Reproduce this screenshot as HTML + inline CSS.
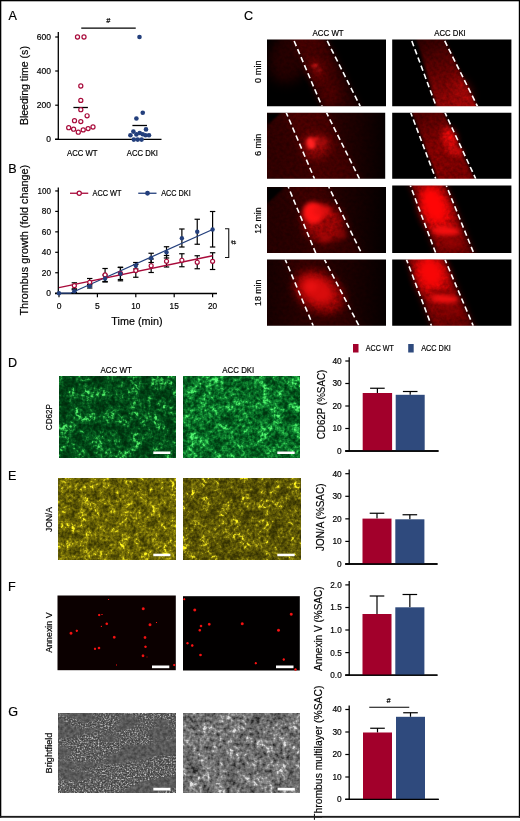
<!DOCTYPE html>
<html><head><meta charset="utf-8"><title>Figure</title>
<style>
html,body{margin:0;padding:0;background:#fff;}
svg{display:block;font-family:"Liberation Sans",sans-serif;will-change:transform;}
</style></head><body>
<svg width="520" height="821" viewBox="0 0 520 821">
<defs>
<filter id="b1" x="-50%" y="-50%" width="200%" height="200%" color-interpolation-filters="sRGB"><feGaussianBlur stdDeviation="1"/></filter>
<filter id="b2" x="-50%" y="-50%" width="200%" height="200%" color-interpolation-filters="sRGB"><feGaussianBlur stdDeviation="2"/></filter>
<filter id="b3" x="-50%" y="-50%" width="200%" height="200%" color-interpolation-filters="sRGB"><feGaussianBlur stdDeviation="3"/></filter>
<filter id="b4" x="-50%" y="-50%" width="200%" height="200%" color-interpolation-filters="sRGB"><feGaussianBlur stdDeviation="4"/></filter>
<filter id="b6" x="-50%" y="-50%" width="200%" height="200%" color-interpolation-filters="sRGB"><feGaussianBlur stdDeviation="6"/></filter>
<filter id="b05" x="-50%" y="-50%" width="200%" height="200%" color-interpolation-filters="sRGB"><feGaussianBlur stdDeviation="0.5"/></filter>
<filter id="b15" x="-50%" y="-50%" width="200%" height="200%" color-interpolation-filters="sRGB"><feGaussianBlur stdDeviation="1.5"/></filter>
</defs>
<rect x="0" y="0" width="520" height="821" fill="#fff"/>
<text x="8.5" y="19.5" font-size="12.6" text-anchor="start" fill="#000" stroke="#000" stroke-width="0.18">A</text>
<text x="8.3" y="173" font-size="12.6" text-anchor="start" fill="#000" stroke="#000" stroke-width="0.18">B</text>
<text x="244" y="20" font-size="12.6" text-anchor="start" fill="#000" stroke="#000" stroke-width="0.18">C</text>
<text x="8.0" y="366.6" font-size="12.6" text-anchor="start" fill="#000" stroke="#000" stroke-width="0.18">D</text>
<text x="8.0" y="480.4" font-size="12.6" text-anchor="start" fill="#000" stroke="#000" stroke-width="0.18">E</text>
<text x="8.0" y="591.4" font-size="12.6" text-anchor="start" fill="#000" stroke="#000" stroke-width="0.18">F</text>
<text x="8.2" y="716.2" font-size="12.6" text-anchor="start" fill="#000" stroke="#000" stroke-width="0.18">G</text>
<line x1="58.3" y1="32" x2="58.3" y2="139.9" stroke="#000" stroke-width="1.3"/>
<line x1="55" y1="139.3" x2="161.5" y2="139.3" stroke="#000" stroke-width="1.3"/>
<line x1="55.2" y1="37" x2="58.3" y2="37" stroke="#000" stroke-width="1.2"/>
<text x="51" y="40.0" font-size="8.5" text-anchor="end" textLength="14.2" lengthAdjust="spacingAndGlyphs" fill="#000" stroke="#000" stroke-width="0.18">600</text>
<line x1="55.2" y1="71" x2="58.3" y2="71" stroke="#000" stroke-width="1.2"/>
<text x="51" y="74.0" font-size="8.5" text-anchor="end" textLength="14.2" lengthAdjust="spacingAndGlyphs" fill="#000" stroke="#000" stroke-width="0.18">400</text>
<line x1="55.2" y1="105.2" x2="58.3" y2="105.2" stroke="#000" stroke-width="1.2"/>
<text x="51" y="108.2" font-size="8.5" text-anchor="end" textLength="14.2" lengthAdjust="spacingAndGlyphs" fill="#000" stroke="#000" stroke-width="0.18">200</text>
<line x1="55.2" y1="139.2" x2="58.3" y2="139.2" stroke="#000" stroke-width="1.2"/>
<text x="51" y="142.2" font-size="8.5" text-anchor="end" fill="#000" stroke="#000" stroke-width="0.18">0</text>
<text x="28.5" y="85.6" font-size="11" text-anchor="middle" textLength="79" lengthAdjust="spacingAndGlyphs" transform="rotate(-90 28.5 85.6)" fill="#000" stroke="#000" stroke-width="0.18">Bleeding time (s)</text>
<line x1="81.25" y1="28.1" x2="135.75" y2="28.1" stroke="#000" stroke-width="1.3"/>
<text x="108.3" y="23.2" font-size="7.2" text-anchor="middle" fill="#222" stroke="#000" stroke-width="0.22" font-style="italic">#</text>
<text x="67" y="155.5" font-size="8.7" text-anchor="start" textLength="30.5" lengthAdjust="spacingAndGlyphs" fill="#000" stroke="#000" stroke-width="0.18">ACC WT</text>
<text x="126.75" y="155.5" font-size="8.7" text-anchor="start" textLength="31.25" lengthAdjust="spacingAndGlyphs" fill="#000" stroke="#000" stroke-width="0.18">ACC DKI</text>
<line x1="73.4" y1="107.5" x2="87.9" y2="107.5" stroke="#000" stroke-width="1.3"/>
<circle cx="77.5" cy="37" r="2.05" fill="#fff" stroke="#A80A3A" stroke-width="1.2"/>
<circle cx="84" cy="37" r="2.05" fill="#fff" stroke="#A80A3A" stroke-width="1.2"/>
<circle cx="80.8" cy="86" r="2.05" fill="#fff" stroke="#A80A3A" stroke-width="1.2"/>
<circle cx="80.8" cy="100.4" r="2.05" fill="#fff" stroke="#A80A3A" stroke-width="1.2"/>
<circle cx="80.8" cy="109.7" r="2.05" fill="#fff" stroke="#A80A3A" stroke-width="1.2"/>
<circle cx="87.1" cy="115.8" r="2.05" fill="#fff" stroke="#A80A3A" stroke-width="1.2"/>
<circle cx="74.5" cy="120.7" r="2.05" fill="#fff" stroke="#A80A3A" stroke-width="1.2"/>
<circle cx="80.8" cy="121.6" r="2.05" fill="#fff" stroke="#A80A3A" stroke-width="1.2"/>
<circle cx="68.7" cy="127.7" r="2.05" fill="#fff" stroke="#A80A3A" stroke-width="1.2"/>
<circle cx="93" cy="127" r="2.05" fill="#fff" stroke="#A80A3A" stroke-width="1.2"/>
<circle cx="73.6" cy="129.2" r="2.05" fill="#fff" stroke="#A80A3A" stroke-width="1.2"/>
<circle cx="88.1" cy="128.6" r="2.05" fill="#fff" stroke="#A80A3A" stroke-width="1.2"/>
<circle cx="83.2" cy="129.9" r="2.05" fill="#fff" stroke="#A80A3A" stroke-width="1.2"/>
<circle cx="78.3" cy="132.2" r="2.05" fill="#fff" stroke="#A80A3A" stroke-width="1.2"/>
<line x1="132.4" y1="125.5" x2="147" y2="125.5" stroke="#000" stroke-width="1.3"/>
<circle cx="139.5" cy="37" r="2.3" fill="#233F7C"/>
<circle cx="142.75" cy="112.8" r="2.3" fill="#233F7C"/>
<circle cx="136.4" cy="118.5" r="2.3" fill="#233F7C"/>
<circle cx="146" cy="129.4" r="2.3" fill="#233F7C"/>
<circle cx="133.4" cy="131.6" r="2.3" fill="#233F7C"/>
<circle cx="139.7" cy="133" r="2.3" fill="#233F7C"/>
<circle cx="136.4" cy="134.4" r="2.3" fill="#233F7C"/>
<circle cx="142.7" cy="134.2" r="2.3" fill="#233F7C"/>
<circle cx="130.4" cy="135.3" r="2.3" fill="#233F7C"/>
<circle cx="145.5" cy="135.3" r="2.3" fill="#233F7C"/>
<circle cx="149" cy="135.3" r="2.3" fill="#233F7C"/>
<circle cx="133.8" cy="139.6" r="2.3" fill="#233F7C"/>
<circle cx="137.7" cy="139.6" r="2.3" fill="#233F7C"/>
<circle cx="141.6" cy="139.6" r="2.3" fill="#233F7C"/>
<line x1="58.3" y1="187.5" x2="58.3" y2="294.1" stroke="#000" stroke-width="1.3"/>
<line x1="55" y1="293.5" x2="217" y2="293.5" stroke="#000" stroke-width="1.3"/>
<line x1="55.2" y1="293.2" x2="58.3" y2="293.2" stroke="#000" stroke-width="1.2"/>
<text x="51" y="296.2" font-size="8.5" text-anchor="end" fill="#000" stroke="#000" stroke-width="0.18">0</text>
<line x1="55.2" y1="272.75" x2="58.3" y2="272.75" stroke="#000" stroke-width="1.2"/>
<text x="51" y="275.75" font-size="8.5" text-anchor="end" textLength="9.2" lengthAdjust="spacingAndGlyphs" fill="#000" stroke="#000" stroke-width="0.18">20</text>
<line x1="55.2" y1="252.29999999999998" x2="58.3" y2="252.29999999999998" stroke="#000" stroke-width="1.2"/>
<text x="51" y="255.29999999999998" font-size="8.5" text-anchor="end" textLength="9.2" lengthAdjust="spacingAndGlyphs" fill="#000" stroke="#000" stroke-width="0.18">40</text>
<line x1="55.2" y1="231.85" x2="58.3" y2="231.85" stroke="#000" stroke-width="1.2"/>
<text x="51" y="234.85" font-size="8.5" text-anchor="end" textLength="9.2" lengthAdjust="spacingAndGlyphs" fill="#000" stroke="#000" stroke-width="0.18">60</text>
<line x1="55.2" y1="211.39999999999998" x2="58.3" y2="211.39999999999998" stroke="#000" stroke-width="1.2"/>
<text x="51" y="214.39999999999998" font-size="8.5" text-anchor="end" textLength="9.2" lengthAdjust="spacingAndGlyphs" fill="#000" stroke="#000" stroke-width="0.18">80</text>
<line x1="55.2" y1="190.95" x2="58.3" y2="190.95" stroke="#000" stroke-width="1.2"/>
<text x="51" y="193.95" font-size="8.5" text-anchor="end" textLength="13.4" lengthAdjust="spacingAndGlyphs" fill="#000" stroke="#000" stroke-width="0.18">100</text>
<line x1="59.0" y1="293.5" x2="59.0" y2="297.3" stroke="#000" stroke-width="1.2"/>
<text x="59.0" y="308.7" font-size="8.5" text-anchor="middle" fill="#000" stroke="#000" stroke-width="0.18">0</text>
<line x1="97.4" y1="293.5" x2="97.4" y2="297.3" stroke="#000" stroke-width="1.2"/>
<text x="97.4" y="308.7" font-size="8.5" text-anchor="middle" fill="#000" stroke="#000" stroke-width="0.18">5</text>
<line x1="135.8" y1="293.5" x2="135.8" y2="297.3" stroke="#000" stroke-width="1.2"/>
<text x="135.8" y="308.7" font-size="8.5" text-anchor="middle" textLength="9.2" lengthAdjust="spacingAndGlyphs" fill="#000" stroke="#000" stroke-width="0.18">10</text>
<line x1="174.2" y1="293.5" x2="174.2" y2="297.3" stroke="#000" stroke-width="1.2"/>
<text x="174.2" y="308.7" font-size="8.5" text-anchor="middle" textLength="9.2" lengthAdjust="spacingAndGlyphs" fill="#000" stroke="#000" stroke-width="0.18">15</text>
<line x1="212.6" y1="293.5" x2="212.6" y2="297.3" stroke="#000" stroke-width="1.2"/>
<text x="212.6" y="308.7" font-size="8.5" text-anchor="middle" textLength="9.2" lengthAdjust="spacingAndGlyphs" fill="#000" stroke="#000" stroke-width="0.18">20</text>
<text x="111.3" y="324.6" font-size="11" text-anchor="start" textLength="51.2" lengthAdjust="spacingAndGlyphs" fill="#000" stroke="#000" stroke-width="0.18">Time (min)</text>
<text x="28.3" y="240.2" font-size="11" text-anchor="middle" textLength="150.8" lengthAdjust="spacingAndGlyphs" transform="rotate(-90 28.3 240.2)" fill="#000" stroke="#000" stroke-width="0.18">Thrombus growth (fold change)</text>
<line x1="70" y1="193.25" x2="88.25" y2="193.25" stroke="#A80A3A" stroke-width="1.3"/>
<circle cx="79.25" cy="193.25" r="2.1" fill="#fff" stroke="#A80A3A" stroke-width="1.2"/>
<text x="92.5" y="196" font-size="8.5" text-anchor="start" textLength="29" lengthAdjust="spacingAndGlyphs" fill="#000" stroke="#000" stroke-width="0.18">ACC WT</text>
<line x1="138.25" y1="193.25" x2="156.5" y2="193.25" stroke="#233F7C" stroke-width="1.3"/>
<circle cx="147.5" cy="193.25" r="2.4" fill="#233F7C"/>
<text x="161.25" y="196" font-size="8.5" text-anchor="start" textLength="29.5" lengthAdjust="spacingAndGlyphs" fill="#000" stroke="#000" stroke-width="0.18">ACC DKI</text>
<line x1="74.36" y1="289.8" x2="74.36" y2="292.6" stroke="#000" stroke-width="1.2"/>
<line x1="71.66" y1="289.8" x2="77.06" y2="289.8" stroke="#000" stroke-width="1.2"/>
<line x1="71.66" y1="292.6" x2="77.06" y2="292.6" stroke="#000" stroke-width="1.2"/>
<line x1="89.72" y1="284.5" x2="89.72" y2="288" stroke="#000" stroke-width="1.2"/>
<line x1="87.02" y1="284.5" x2="92.42" y2="284.5" stroke="#000" stroke-width="1.2"/>
<line x1="87.02" y1="288" x2="92.42" y2="288" stroke="#000" stroke-width="1.2"/>
<line x1="105.08" y1="275" x2="105.08" y2="282" stroke="#000" stroke-width="1.2"/>
<line x1="102.38" y1="275" x2="107.78" y2="275" stroke="#000" stroke-width="1.2"/>
<line x1="102.38" y1="282" x2="107.78" y2="282" stroke="#000" stroke-width="1.2"/>
<line x1="120.44" y1="267.2" x2="120.44" y2="280.8" stroke="#000" stroke-width="1.2"/>
<line x1="117.74" y1="267.2" x2="123.14" y2="267.2" stroke="#000" stroke-width="1.2"/>
<line x1="117.74" y1="280.8" x2="123.14" y2="280.8" stroke="#000" stroke-width="1.2"/>
<line x1="135.8" y1="262.5" x2="135.8" y2="269" stroke="#000" stroke-width="1.2"/>
<line x1="133.10000000000002" y1="262.5" x2="138.5" y2="262.5" stroke="#000" stroke-width="1.2"/>
<line x1="133.10000000000002" y1="269" x2="138.5" y2="269" stroke="#000" stroke-width="1.2"/>
<line x1="151.16" y1="253.25" x2="151.16" y2="262.5" stroke="#000" stroke-width="1.2"/>
<line x1="148.46" y1="253.25" x2="153.85999999999999" y2="253.25" stroke="#000" stroke-width="1.2"/>
<line x1="148.46" y1="262.5" x2="153.85999999999999" y2="262.5" stroke="#000" stroke-width="1.2"/>
<line x1="166.51999999999998" y1="246.75" x2="166.51999999999998" y2="258" stroke="#000" stroke-width="1.2"/>
<line x1="163.82" y1="246.75" x2="169.21999999999997" y2="246.75" stroke="#000" stroke-width="1.2"/>
<line x1="163.82" y1="258" x2="169.21999999999997" y2="258" stroke="#000" stroke-width="1.2"/>
<line x1="181.88" y1="229" x2="181.88" y2="247" stroke="#000" stroke-width="1.2"/>
<line x1="179.18" y1="229" x2="184.57999999999998" y2="229" stroke="#000" stroke-width="1.2"/>
<line x1="179.18" y1="247" x2="184.57999999999998" y2="247" stroke="#000" stroke-width="1.2"/>
<line x1="197.24" y1="219.25" x2="197.24" y2="244.25" stroke="#000" stroke-width="1.2"/>
<line x1="194.54000000000002" y1="219.25" x2="199.94" y2="219.25" stroke="#000" stroke-width="1.2"/>
<line x1="194.54000000000002" y1="244.25" x2="199.94" y2="244.25" stroke="#000" stroke-width="1.2"/>
<line x1="212.6" y1="211.5" x2="212.6" y2="247" stroke="#000" stroke-width="1.2"/>
<line x1="209.9" y1="211.5" x2="215.29999999999998" y2="211.5" stroke="#000" stroke-width="1.2"/>
<line x1="209.9" y1="247" x2="215.29999999999998" y2="247" stroke="#000" stroke-width="1.2"/>
<line x1="74.36" y1="282.8" x2="74.36" y2="288.8" stroke="#000" stroke-width="1.2"/>
<line x1="71.66" y1="282.8" x2="77.06" y2="282.8" stroke="#000" stroke-width="1.2"/>
<line x1="71.66" y1="288.8" x2="77.06" y2="288.8" stroke="#000" stroke-width="1.2"/>
<line x1="89.72" y1="278.5" x2="89.72" y2="286" stroke="#000" stroke-width="1.2"/>
<line x1="87.02" y1="278.5" x2="92.42" y2="278.5" stroke="#000" stroke-width="1.2"/>
<line x1="87.02" y1="286" x2="92.42" y2="286" stroke="#000" stroke-width="1.2"/>
<line x1="105.08" y1="268.5" x2="105.08" y2="281.5" stroke="#000" stroke-width="1.2"/>
<line x1="102.38" y1="268.5" x2="107.78" y2="268.5" stroke="#000" stroke-width="1.2"/>
<line x1="102.38" y1="281.5" x2="107.78" y2="281.5" stroke="#000" stroke-width="1.2"/>
<line x1="120.44" y1="267.5" x2="120.44" y2="279.5" stroke="#000" stroke-width="1.2"/>
<line x1="117.74" y1="267.5" x2="123.14" y2="267.5" stroke="#000" stroke-width="1.2"/>
<line x1="117.74" y1="279.5" x2="123.14" y2="279.5" stroke="#000" stroke-width="1.2"/>
<line x1="135.8" y1="264.5" x2="135.8" y2="277.25" stroke="#000" stroke-width="1.2"/>
<line x1="133.10000000000002" y1="264.5" x2="138.5" y2="264.5" stroke="#000" stroke-width="1.2"/>
<line x1="133.10000000000002" y1="277.25" x2="138.5" y2="277.25" stroke="#000" stroke-width="1.2"/>
<line x1="151.16" y1="259" x2="151.16" y2="272.5" stroke="#000" stroke-width="1.2"/>
<line x1="148.46" y1="259" x2="153.85999999999999" y2="259" stroke="#000" stroke-width="1.2"/>
<line x1="148.46" y1="272.5" x2="153.85999999999999" y2="272.5" stroke="#000" stroke-width="1.2"/>
<line x1="166.51999999999998" y1="255.5" x2="166.51999999999998" y2="267" stroke="#000" stroke-width="1.2"/>
<line x1="163.82" y1="255.5" x2="169.21999999999997" y2="255.5" stroke="#000" stroke-width="1.2"/>
<line x1="163.82" y1="267" x2="169.21999999999997" y2="267" stroke="#000" stroke-width="1.2"/>
<line x1="181.88" y1="253.75" x2="181.88" y2="266.75" stroke="#000" stroke-width="1.2"/>
<line x1="179.18" y1="253.75" x2="184.57999999999998" y2="253.75" stroke="#000" stroke-width="1.2"/>
<line x1="179.18" y1="266.75" x2="184.57999999999998" y2="266.75" stroke="#000" stroke-width="1.2"/>
<line x1="197.24" y1="255.75" x2="197.24" y2="268.75" stroke="#000" stroke-width="1.2"/>
<line x1="194.54000000000002" y1="255.75" x2="199.94" y2="255.75" stroke="#000" stroke-width="1.2"/>
<line x1="194.54000000000002" y1="268.75" x2="199.94" y2="268.75" stroke="#000" stroke-width="1.2"/>
<line x1="212.6" y1="252.75" x2="212.6" y2="269.5" stroke="#000" stroke-width="1.2"/>
<line x1="209.9" y1="252.75" x2="215.29999999999998" y2="252.75" stroke="#000" stroke-width="1.2"/>
<line x1="209.9" y1="269.5" x2="215.29999999999998" y2="269.5" stroke="#000" stroke-width="1.2"/>
<polyline points="59.0,293.2 70.5,293.2 212.6,229.5" fill="none" stroke="#233F7C" stroke-width="1.25"/>
<line x1="59.0" y1="287.7" x2="212.6" y2="255.75" stroke="#A80A3A" stroke-width="1.3"/>
<circle cx="74.36" cy="285.7" r="2.0" fill="#fff" stroke="#A80A3A" stroke-width="1.2"/>
<circle cx="89.72" cy="282.3" r="2.0" fill="#fff" stroke="#A80A3A" stroke-width="1.2"/>
<circle cx="105.08" cy="274.9" r="2.0" fill="#fff" stroke="#A80A3A" stroke-width="1.2"/>
<circle cx="120.44" cy="273.4" r="2.0" fill="#fff" stroke="#A80A3A" stroke-width="1.2"/>
<circle cx="135.8" cy="270.6" r="2.0" fill="#fff" stroke="#A80A3A" stroke-width="1.2"/>
<circle cx="151.16" cy="265.75" r="2.0" fill="#fff" stroke="#A80A3A" stroke-width="1.2"/>
<circle cx="166.51999999999998" cy="261.25" r="2.0" fill="#fff" stroke="#A80A3A" stroke-width="1.2"/>
<circle cx="181.88" cy="260.25" r="2.0" fill="#fff" stroke="#A80A3A" stroke-width="1.2"/>
<circle cx="197.24" cy="262.25" r="2.0" fill="#fff" stroke="#A80A3A" stroke-width="1.2"/>
<circle cx="212.6" cy="261.3" r="2.0" fill="#fff" stroke="#A80A3A" stroke-width="1.2"/>
<circle cx="59.0" cy="293.2" r="2.2" fill="#233F7C"/>
<circle cx="74.36" cy="291.2" r="2.2" fill="#233F7C"/>
<circle cx="89.72" cy="286.2" r="2.2" fill="#233F7C"/>
<circle cx="105.08" cy="278.5" r="2.2" fill="#233F7C"/>
<circle cx="120.44" cy="273.8" r="2.2" fill="#233F7C"/>
<circle cx="135.8" cy="265.75" r="2.2" fill="#233F7C"/>
<circle cx="151.16" cy="258" r="2.2" fill="#233F7C"/>
<circle cx="166.51999999999998" cy="252.3" r="2.2" fill="#233F7C"/>
<circle cx="181.88" cy="238.25" r="2.2" fill="#233F7C"/>
<circle cx="197.24" cy="231.75" r="2.2" fill="#233F7C"/>
<circle cx="212.6" cy="229.5" r="2.2" fill="#233F7C"/>
<polyline points="225,228.75 228.75,228.75 228.75,257.5 225,257.5" fill="none" stroke="#111" stroke-width="1.1"/>
<text x="236.2" y="242.5" font-size="7.2" text-anchor="middle" transform="rotate(-90 236.2 242.5)" fill="#222" stroke="#000" stroke-width="0.22" font-style="italic">#</text>
<text x="312.5" y="35.7" font-size="8.7" text-anchor="start" textLength="31.2" lengthAdjust="spacingAndGlyphs" fill="#000" stroke="#000" stroke-width="0.18">ACC WT</text>
<text x="434.25" y="35.7" font-size="8.7" text-anchor="start" textLength="31.5" lengthAdjust="spacingAndGlyphs" fill="#000" stroke="#000" stroke-width="0.18">ACC DKI</text>
<text x="260.6" y="71.7" font-size="8.7" text-anchor="middle" textLength="22.5" lengthAdjust="spacingAndGlyphs" transform="rotate(-90 260.6 71.7)" fill="#000" stroke="#000" stroke-width="0.18">0 min</text>
<text x="260.6" y="144.9" font-size="8.7" text-anchor="middle" textLength="22.3" lengthAdjust="spacingAndGlyphs" transform="rotate(-90 260.6 144.9)" fill="#000" stroke="#000" stroke-width="0.18">6 min</text>
<text x="260.6" y="220.5" font-size="8.7" text-anchor="middle" textLength="26.4" lengthAdjust="spacingAndGlyphs" transform="rotate(-90 260.6 220.5)" fill="#000" stroke="#000" stroke-width="0.18">12 min</text>
<text x="260.6" y="292.8" font-size="8.7" text-anchor="middle" textLength="26.4" lengthAdjust="spacingAndGlyphs" transform="rotate(-90 260.6 292.8)" fill="#000" stroke="#000" stroke-width="0.18">18 min</text>
<defs>
<filter id="rtex" x="0" y="0" width="100%" height="100%" color-interpolation-filters="sRGB"><feTurbulence type="fractalNoise" baseFrequency="0.3" numOctaves="2" seed="7" result="n0"/><feColorMatrix in="n0" type="matrix" values="1 0 0 0 0  1 0 0 0 0  1 0 0 0 0  0 0 0 0 1" result="n"/><feComposite in="SourceGraphic" in2="n" operator="arithmetic" k1="0.6" k2="0.7" k3="0" k4="0"/></filter>
<radialGradient id="hot"><stop offset="0" stop-color="#ff1a1a" stop-opacity="1"/><stop offset="0.45" stop-color="#f01010" stop-opacity="0.9"/><stop offset="1" stop-color="#c00000" stop-opacity="0"/></radialGradient>
<radialGradient id="warm"><stop offset="0" stop-color="#e00808" stop-opacity="0.95"/><stop offset="0.6" stop-color="#c00404" stop-opacity="0.6"/><stop offset="1" stop-color="#900000" stop-opacity="0"/></radialGradient>
<radialGradient id="dim"><stop offset="0" stop-color="#a00000" stop-opacity="0.8"/><stop offset="1" stop-color="#600000" stop-opacity="0"/></radialGradient>
</defs>
<defs><clipPath id="cpc1"><rect x="267" y="39.5" width="119" height="66.8"/></clipPath></defs>
<g clip-path="url(#cpc1)">
<g filter="url(#rtex)">
<rect x="257" y="29.5" width="139" height="86.8" fill="#000"/>
<ellipse cx="290" cy="56" rx="20" ry="28" fill="#240000" opacity="1" filter="url(#b6)" transform="rotate(23 290 56)"/>
<defs><linearGradient id="gc1" gradientUnits="userSpaceOnUse" x1="300" y1="0" x2="350" y2="0"><stop offset="0" stop-color="#440000"/><stop offset="0.6" stop-color="#380000"/><stop offset="1" stop-color="#220000"/></linearGradient></defs>
<polygon points="290.09,31.50 322.46,31.50 364.29,114.30 325.41,114.30" fill="url(#gc1)" opacity="1" filter="url(#b3)"/>
<ellipse cx="317" cy="70" rx="8" ry="13" fill="#6a0303" opacity="0.8" filter="url(#b4)" transform="rotate(-23 317 70)"/>
<ellipse cx="315" cy="66" rx="3.2" ry="2.2" fill="#c01414" opacity="0.8" filter="url(#b1)"/>
<ellipse cx="319" cy="70.5" rx="2.2" ry="2" fill="#b01212" opacity="0.7" filter="url(#b1)"/>
<ellipse cx="330" cy="92" rx="9" ry="14" fill="#520000" opacity="0.6" filter="url(#b4)" transform="rotate(-23 330 92)"/>
</g>
<line x1="293.5" y1="39.5" x2="322" y2="106.3" stroke="#fff" stroke-width="1.6" stroke-dasharray="5.5 3.25" stroke-dashoffset="7.1"/>
<line x1="326.5" y1="39.5" x2="360.25" y2="106.3" stroke="#fff" stroke-width="1.6" stroke-dasharray="5.5 3.25" stroke-dashoffset="7.1"/>
</g>
<defs><clipPath id="cpc2"><rect x="392.2" y="39.5" width="119.2" height="66.8"/></clipPath></defs>
<g clip-path="url(#cpc2)">
<g filter="url(#rtex)">
<rect x="382.2" y="29.5" width="139.2" height="86.8" fill="#000"/>
<defs><linearGradient id="gc2" gradientUnits="userSpaceOnUse" x1="430" y1="40" x2="455" y2="106"><stop offset="0" stop-color="#300000"/><stop offset="0.45" stop-color="#5c0101"/><stop offset="1" stop-color="#920505"/></linearGradient></defs>
<polygon points="414.5,31.5 441,31.5 480.5,113.8 438.5,113.8" fill="url(#gc2)" filter="url(#b15)"/>
<ellipse cx="462" cy="92" rx="9" ry="14" fill="#a80808" opacity="0.5" filter="url(#b4)" transform="rotate(-25 462 92)"/>
</g>
<line x1="411.25" y1="39.5" x2="436.25" y2="106.3" stroke="#fff" stroke-width="1.6" stroke-dasharray="5.5 3.25" stroke-dashoffset="7.1"/>
<line x1="444" y1="39.5" x2="477.5" y2="106.3" stroke="#fff" stroke-width="1.6" stroke-dasharray="5.5 3.25" stroke-dashoffset="7.1"/>
</g>
<defs><clipPath id="cpc3"><rect x="267" y="112.7" width="118.2" height="66.1"/></clipPath></defs>
<g clip-path="url(#cpc3)">
<g filter="url(#rtex)">
<rect x="257" y="102.7" width="138.2" height="86.1" fill="#000"/>
<defs><linearGradient id="gc3" gradientUnits="userSpaceOnUse" x1="267" y1="0" x2="386" y2="0"><stop offset="0" stop-color="#2e0000"/><stop offset="0.35" stop-color="#360000"/><stop offset="0.75" stop-color="#1a0000"/><stop offset="1" stop-color="#050000"/></linearGradient></defs>
<rect x="267" y="112.7" width="118.2" height="66.1" fill="url(#gc3)"/>
<polygon points="267,112.7 281,112.7 267,125.7" fill="#000" filter="url(#b1)"/>
<polygon points="282.83,104.70 322.51,104.70 363.49,186.80 317.92,186.80" fill="#5a0000" opacity="0.5" filter="url(#b3)"/>
<ellipse cx="316" cy="146" rx="14" ry="12" fill="#a00808" opacity="0.75" filter="url(#b4)"/>
</g><g>
<ellipse cx="311" cy="143.2" rx="4.6" ry="6" fill="#ff2222" opacity="1" filter="url(#b15)" transform="rotate(-15 311 143.2)"/>
<ellipse cx="315.5" cy="139.5" rx="3.5" ry="2.2" fill="#e01515" opacity="0.7" filter="url(#b1)" transform="rotate(-25 315.5 139.5)"/>
<ellipse cx="322" cy="142" rx="6" ry="3.5" fill="#c01010" opacity="0.6" filter="url(#b2)"/>
</g>
<line x1="286.25" y1="112.7" x2="314.5" y2="178.8" stroke="#fff" stroke-width="1.6" stroke-dasharray="5.5 3.25" stroke-dashoffset="1.4"/>
<line x1="326.5" y1="112.7" x2="359.5" y2="178.8" stroke="#fff" stroke-width="1.6" stroke-dasharray="5.5 3.25" stroke-dashoffset="1.4"/>
</g>
<defs><clipPath id="cpc4"><rect x="392.2" y="112.7" width="119.2" height="66.1"/></clipPath></defs>
<g clip-path="url(#cpc4)">
<g filter="url(#rtex)">
<rect x="382.2" y="102.7" width="139.2" height="86.1" fill="#000"/>
<defs><linearGradient id="gc4" gradientUnits="userSpaceOnUse" x1="425" y1="113" x2="460" y2="179"><stop offset="0" stop-color="#4c0000"/><stop offset="0.5" stop-color="#800101"/><stop offset="1" stop-color="#720000"/></linearGradient></defs>
<polygon points="409.22,104.70 439.78,104.70 477.97,186.80 440.28,186.80" fill="url(#gc4)" opacity="1" filter="url(#b15)"/>
<ellipse cx="449.5" cy="138" rx="6.5" ry="11" fill="#e00a0a" opacity="1" filter="url(#b3)" transform="rotate(-20 449.5 138)"/>
<ellipse cx="455" cy="151" rx="9" ry="4.5" fill="#cc0a0a" opacity="0.85" filter="url(#b2)" transform="rotate(15 455 151)"/>
</g>
<line x1="410.75" y1="112.7" x2="435.75" y2="178.8" stroke="#fff" stroke-width="1.6" stroke-dasharray="5.5 3.25" stroke-dashoffset="1.4"/>
<line x1="445" y1="112.7" x2="475.75" y2="178.8" stroke="#fff" stroke-width="1.6" stroke-dasharray="5.5 3.25" stroke-dashoffset="1.4"/>
</g>
<defs><clipPath id="cpc5"><rect x="267" y="186.9" width="119" height="66.2"/></clipPath></defs>
<g clip-path="url(#cpc5)">
<g filter="url(#rtex)">
<rect x="257" y="176.9" width="139" height="86.2" fill="#000"/>
<defs><linearGradient id="gc5" gradientUnits="userSpaceOnUse" x1="267" y1="0" x2="386" y2="0"><stop offset="0" stop-color="#240000"/><stop offset="0.4" stop-color="#2b0000"/><stop offset="0.8" stop-color="#120000"/><stop offset="1" stop-color="#040000"/></linearGradient></defs>
<rect x="267" y="186.9" width="119" height="66.2" fill="url(#gc5)"/>
<polygon points="267,186.9 285,186.9 267,203.9" fill="#000" filter="url(#b1)"/>
<polygon points="284.93,178.90 324.79,178.90 365.46,261.10 319.07,261.10" fill="#5e0000" opacity="0.3" filter="url(#b4)"/>
<ellipse cx="323" cy="223" rx="21" ry="18" fill="#a00505" opacity="0.9" filter="url(#b4)" transform="rotate(25 323 223)"/>
</g><g>
<ellipse cx="313" cy="213" rx="10" ry="11" fill="#ff1414" opacity="1" filter="url(#b2)" transform="rotate(-20 313 213)"/>
<ellipse cx="322" cy="211" rx="9" ry="6" fill="#e81010" opacity="0.8" filter="url(#b2)"/>
<ellipse cx="325" cy="238" rx="6" ry="4" fill="#b00808" opacity="0.7" filter="url(#b2)"/>
<ellipse cx="341" cy="235" rx="6" ry="4" fill="#a00606" opacity="0.6" filter="url(#b2)"/>
</g>
<line x1="288.25" y1="186.9" x2="315.75" y2="253.10000000000002" stroke="#fff" stroke-width="1.6" stroke-dasharray="5.5 3.25" stroke-dashoffset="3.7"/>
<line x1="328.75" y1="186.9" x2="361.5" y2="253.10000000000002" stroke="#fff" stroke-width="1.6" stroke-dasharray="5.5 3.25" stroke-dashoffset="3.7"/>
</g>
<defs><clipPath id="cpc6"><rect x="392.2" y="185.4" width="119.2" height="67.7"/></clipPath></defs>
<g clip-path="url(#cpc6)">
<g filter="url(#rtex)">
<rect x="382.2" y="175.4" width="139.2" height="87.7" fill="#000"/>
<polygon points="407.24,177.40 443.00,177.40 477.00,261.10 438.76,261.10" fill="#5a0000" opacity="1" filter="url(#b3)"/>
<defs><linearGradient id="gc6" gradientUnits="userSpaceOnUse" x1="425" y1="186" x2="455" y2="253"><stop offset="0" stop-color="#900303"/><stop offset="0.55" stop-color="#980404"/><stop offset="1" stop-color="#640101"/></linearGradient></defs>
<polygon points="410.74,177.40 439.50,177.40 473.50,261.10 442.26,261.10" fill="url(#gc6)" opacity="1" filter="url(#b2)"/>
<ellipse cx="436" cy="210" rx="15" ry="24" fill="#d00606" opacity="0.9" filter="url(#b4)" transform="rotate(-21 436 210)"/>
</g><g>
<ellipse cx="434" cy="205" rx="10.5" ry="18" fill="#ff0505" opacity="1" filter="url(#b3)" transform="rotate(-21 434 205)"/>
<ellipse cx="446" cy="231" rx="14" ry="4.4" fill="#f41010" opacity="1" filter="url(#b2)" transform="rotate(4 446 231)"/>
<ellipse cx="453" cy="243" rx="11" ry="5" fill="#a80404" opacity="0.6" filter="url(#b3)" transform="rotate(12 453 243)"/>
</g>
<line x1="410.25" y1="185.4" x2="435.75" y2="253.10000000000002" stroke="#fff" stroke-width="1.6" stroke-dasharray="5.5 3.25" stroke-dashoffset="3.7"/>
<line x1="446.25" y1="185.4" x2="473.75" y2="253.10000000000002" stroke="#fff" stroke-width="1.6" stroke-dasharray="5.5 3.25" stroke-dashoffset="3.7"/>
</g>
<defs><clipPath id="cpc7"><rect x="267" y="259.6" width="119" height="66.2"/></clipPath></defs>
<g clip-path="url(#cpc7)">
<g filter="url(#rtex)">
<rect x="257" y="249.60000000000002" width="139" height="86.2" fill="#000"/>
<defs><linearGradient id="gc7" gradientUnits="userSpaceOnUse" x1="267" y1="0" x2="386" y2="0"><stop offset="0" stop-color="#160000"/><stop offset="0.3" stop-color="#260000"/><stop offset="0.7" stop-color="#1a0000"/><stop offset="1" stop-color="#060000"/></linearGradient></defs>
<rect x="267" y="259.6" width="119" height="66.2" fill="url(#gc7)"/>
<polygon points="281.87,251.60 320.33,251.60 363.17,333.80 316.63,333.80" fill="#4a0000" opacity="0.35" filter="url(#b4)"/>
<ellipse cx="319" cy="292" rx="27" ry="19" fill="#a00404" opacity="0.9" filter="url(#b4)" transform="rotate(32 319 292)"/>
</g><g>
<ellipse cx="317" cy="290" rx="17" ry="11.5" fill="#d80c0c" opacity="1" filter="url(#b3)" transform="rotate(32 317 290)"/>
<ellipse cx="311" cy="287" rx="6" ry="5" fill="#f01414" opacity="0.6" filter="url(#b2)"/>
</g>
<line x1="285.25" y1="259.6" x2="313.25" y2="325.8" stroke="#fff" stroke-width="1.6" stroke-dasharray="5.5 3.25" stroke-dashoffset="1.5"/>
<line x1="324.5" y1="259.6" x2="359" y2="325.8" stroke="#fff" stroke-width="1.6" stroke-dasharray="5.5 3.25" stroke-dashoffset="1.5"/>
</g>
<defs><clipPath id="cpc8"><rect x="392.2" y="259.6" width="119.2" height="66.2"/></clipPath></defs>
<g clip-path="url(#cpc8)">
<g filter="url(#rtex)">
<rect x="382.2" y="249.60000000000002" width="139.2" height="86.2" fill="#000"/>
<polygon points="403.48,251.60 441.59,251.60 476.66,333.80 434.52,333.80" fill="#580000" opacity="1" filter="url(#b3)"/>
<defs><linearGradient id="gc8" gradientUnits="userSpaceOnUse" x1="420" y1="260" x2="455" y2="326"><stop offset="0" stop-color="#a00404"/><stop offset="0.5" stop-color="#8c0303"/><stop offset="1" stop-color="#600101"/></linearGradient></defs>
<polygon points="406.98,251.60 438.09,251.60 473.16,333.80 438.02,333.80" fill="url(#gc8)" opacity="1" filter="url(#b2)"/>
<ellipse cx="432" cy="277" rx="16" ry="20" fill="#cc0606" opacity="0.9" filter="url(#b4)" transform="rotate(-21 432 277)"/>
</g><g>
<ellipse cx="430.5" cy="273" rx="11" ry="14" fill="#f80606" opacity="1" filter="url(#b3)" transform="rotate(-21 430.5 273)"/>
<ellipse cx="444.5" cy="299" rx="14" ry="4.2" fill="#ee1010" opacity="1" filter="url(#b2)" transform="rotate(4 444.5 299)"/>
<ellipse cx="439" cy="291.5" rx="11" ry="2.2" fill="#700000" opacity="0.55" filter="url(#b1)" transform="rotate(6 439 291.5)"/>
<ellipse cx="452" cy="311" rx="11" ry="5" fill="#980303" opacity="0.5" filter="url(#b3)" transform="rotate(12 452 311)"/>
</g>
<line x1="406.5" y1="259.6" x2="431.5" y2="325.8" stroke="#fff" stroke-width="1.6" stroke-dasharray="5.5 3.25" stroke-dashoffset="1.5"/>
<line x1="445" y1="259.6" x2="473.25" y2="325.8" stroke="#fff" stroke-width="1.6" stroke-dasharray="5.5 3.25" stroke-dashoffset="1.5"/>
</g>
<text x="100.4" y="372.7" font-size="8.7" text-anchor="start" textLength="31.5" lengthAdjust="spacingAndGlyphs" fill="#000" stroke="#000" stroke-width="0.18">ACC WT</text>
<text x="222.3" y="372.7" font-size="8.7" text-anchor="start" textLength="32" lengthAdjust="spacingAndGlyphs" fill="#000" stroke="#000" stroke-width="0.18">ACC DKI</text>
<text x="52.3" y="417.1" font-size="9" text-anchor="middle" textLength="26.2" lengthAdjust="spacingAndGlyphs" transform="rotate(-90 52.3 417.1)" fill="#000" stroke="#000" stroke-width="0.18">CD62P</text>
<text x="52.3" y="519.6" font-size="9" text-anchor="middle" textLength="25.0" lengthAdjust="spacingAndGlyphs" transform="rotate(-90 52.3 519.6)" fill="#000" stroke="#000" stroke-width="0.18">JON/A</text>
<text x="52.3" y="632.6" font-size="9" text-anchor="middle" textLength="40.3" lengthAdjust="spacingAndGlyphs" transform="rotate(-90 52.3 632.6)" fill="#000" stroke="#000" stroke-width="0.18">Annexin V</text>
<text x="52.3" y="753" font-size="9" text-anchor="middle" textLength="41" lengthAdjust="spacingAndGlyphs" transform="rotate(-90 52.3 753)" fill="#000" stroke="#000" stroke-width="0.18">Brightfield</text>
<defs>
<filter id="gA" x="0" y="0" width="100%" height="100%" color-interpolation-filters="sRGB"><feTurbulence type="fractalNoise" baseFrequency="0.33" numOctaves="2" seed="3" result="s0"/><feColorMatrix in="s0" type="matrix" values="1 0 0 0 0  1 0 0 0 0  1 0 0 0 0  0 0 0 0 1" result="s"/><feTurbulence type="fractalNoise" baseFrequency="0.085" numOctaves="2" seed="13" result="p0"/><feColorMatrix in="p0" type="matrix" values="1 0 0 0 0  1 0 0 0 0  1 0 0 0 0  0 0 0 0 1" result="p"/><feComposite in="s" in2="p" operator="arithmetic" k1="1.0" k2="0.6" k3="0.6" k4="-0.4" result="v"/><feComponentTransfer in="v"><feFuncR type="table" tableValues="0 0 0 0.01 0.02 0.05 0.12 0.24 0.32"/><feFuncG type="table" tableValues="0.17 0.2 0.24 0.29 0.34 0.42 0.58 0.8 0.92"/><feFuncB type="table" tableValues="0.05 0.06 0.075 0.095 0.115 0.15 0.22 0.33 0.42"/><feFuncA type="linear" slope="0" intercept="1"/></feComponentTransfer><feGaussianBlur stdDeviation="0.55"/></filter>
<filter id="gB" x="0" y="0" width="100%" height="100%" color-interpolation-filters="sRGB"><feTurbulence type="fractalNoise" baseFrequency="0.33" numOctaves="2" seed="8" result="s0"/><feColorMatrix in="s0" type="matrix" values="1 0 0 0 0  1 0 0 0 0  1 0 0 0 0  0 0 0 0 1" result="s"/><feTurbulence type="fractalNoise" baseFrequency="0.085" numOctaves="2" seed="18" result="p0"/><feColorMatrix in="p0" type="matrix" values="1 0 0 0 0  1 0 0 0 0  1 0 0 0 0  0 0 0 0 1" result="p"/><feComposite in="s" in2="p" operator="arithmetic" k1="1.0" k2="0.6" k3="0.6" k4="-0.4" result="v"/><feComponentTransfer in="v"><feFuncR type="table" tableValues="0 0 0.01 0.02 0.05 0.09 0.16 0.28 0.36"/><feFuncG type="table" tableValues="0.2 0.25 0.31 0.39 0.47 0.57 0.72 0.9 0.97"/><feFuncB type="table" tableValues="0.06 0.08 0.10 0.135 0.17 0.215 0.29 0.39 0.48"/><feFuncA type="linear" slope="0" intercept="1"/></feComponentTransfer><feGaussianBlur stdDeviation="0.55"/></filter>
<filter id="yA" x="0" y="0" width="100%" height="100%" color-interpolation-filters="sRGB"><feTurbulence type="fractalNoise" baseFrequency="0.36" numOctaves="2" seed="4" result="s0"/><feColorMatrix in="s0" type="matrix" values="1 0 0 0 0  1 0 0 0 0  1 0 0 0 0  0 0 0 0 1" result="s"/><feTurbulence type="fractalNoise" baseFrequency="0.1" numOctaves="2" seed="14" result="p0"/><feColorMatrix in="p0" type="matrix" values="1 0 0 0 0  1 0 0 0 0  1 0 0 0 0  0 0 0 0 1" result="p"/><feComposite in="s" in2="p" operator="arithmetic" k1="1.0" k2="0.6" k3="0.6" k4="-0.4" result="v"/><feComponentTransfer in="v"><feFuncR type="table" tableValues="0.22 0.27 0.33 0.40 0.46 0.54 0.68 0.9 1"/><feFuncG type="table" tableValues="0.21 0.255 0.31 0.375 0.43 0.505 0.64 0.86 0.97"/><feFuncB type="table" tableValues="0.01 0.01 0.02 0.02 0.03 0.04 0.07 0.1 0.12"/><feFuncA type="linear" slope="0" intercept="1"/></feComponentTransfer><feGaussianBlur stdDeviation="0.55"/></filter>
<filter id="yB" x="0" y="0" width="100%" height="100%" color-interpolation-filters="sRGB"><feTurbulence type="fractalNoise" baseFrequency="0.36" numOctaves="2" seed="9" result="s0"/><feColorMatrix in="s0" type="matrix" values="1 0 0 0 0  1 0 0 0 0  1 0 0 0 0  0 0 0 0 1" result="s"/><feTurbulence type="fractalNoise" baseFrequency="0.1" numOctaves="2" seed="19" result="p0"/><feColorMatrix in="p0" type="matrix" values="1 0 0 0 0  1 0 0 0 0  1 0 0 0 0  0 0 0 0 1" result="p"/><feComposite in="s" in2="p" operator="arithmetic" k1="1.0" k2="0.6" k3="0.6" k4="-0.4" result="v"/><feComponentTransfer in="v"><feFuncR type="table" tableValues="0.2 0.24 0.29 0.35 0.405 0.48 0.62 0.86 1"/><feFuncG type="table" tableValues="0.19 0.225 0.27 0.325 0.38 0.45 0.58 0.82 0.96"/><feFuncB type="table" tableValues="0.01 0.01 0.02 0.02 0.03 0.04 0.07 0.1 0.12"/><feFuncA type="linear" slope="0" intercept="1"/></feComponentTransfer><feGaussianBlur stdDeviation="0.55"/></filter>
<filter id="kA" x="0" y="0" width="100%" height="100%" color-interpolation-filters="sRGB"><feTurbulence type="fractalNoise" baseFrequency="0.62" numOctaves="2" seed="15" result="hf"/><feColorMatrix in="hf" type="matrix" values="1 0 0 0 0  1 0 0 0 0  1 0 0 0 0  0 0 0 0 1"/><feComponentTransfer result="hfg"><feFuncR type="table" tableValues="0.16 0.2 0.25 0.3 0.37 0.52 0.7 0.84 0.9"/><feFuncG type="table" tableValues="0.16 0.2 0.25 0.3 0.37 0.52 0.7 0.84 0.9"/><feFuncB type="table" tableValues="0.16 0.2 0.25 0.3 0.37 0.52 0.7 0.84 0.9"/></feComponentTransfer><feTurbulence type="fractalNoise" baseFrequency="0.02 0.05" numOctaves="2" seed="31" result="lf"/><feColorMatrix in="lf" type="matrix" values="0 0 0 0 0  0 0 0 0 0  0 0 0 0 0  9 0 0 0 -3.7" result="mask"/><feComposite in="hfg" in2="mask" operator="in"/></filter>
<filter id="kA0" x="0" y="0" width="100%" height="100%" color-interpolation-filters="sRGB"><feTurbulence type="fractalNoise" baseFrequency="0.3" numOctaves="2" seed="5"/><feColorMatrix type="matrix" values="0.3 0 0 0 0.20  0.3 0 0 0 0.20  0.3 0 0 0 0.20  0 0 0 0 1"/></filter>
<filter id="kB" x="0" y="0" width="100%" height="100%" color-interpolation-filters="sRGB"><feTurbulence type="fractalNoise" baseFrequency="0.3" numOctaves="2" seed="6" result="s0"/><feColorMatrix in="s0" type="matrix" values="1 0 0 0 0  1 0 0 0 0  1 0 0 0 0  0 0 0 0 1" result="s"/><feTurbulence type="fractalNoise" baseFrequency="0.08" numOctaves="2" seed="16" result="p0"/><feColorMatrix in="p0" type="matrix" values="1 0 0 0 0  1 0 0 0 0  1 0 0 0 0  0 0 0 0 1" result="p"/><feComposite in="s" in2="p" operator="arithmetic" k1="0.8" k2="0.9" k3="0.5" k4="-0.4" result="v"/><feComponentTransfer in="v"><feFuncR type="table" tableValues="0.14 0.24 0.33 0.40 0.45 0.51 0.59 0.72 0.88"/><feFuncG type="table" tableValues="0.14 0.24 0.33 0.40 0.45 0.51 0.59 0.72 0.88"/><feFuncB type="table" tableValues="0.14 0.24 0.33 0.40 0.45 0.51 0.59 0.72 0.88"/><feFuncA type="linear" slope="0" intercept="1"/></feComponentTransfer><feGaussianBlur stdDeviation="0.4"/></filter>
<radialGradient id="rdot"><stop offset="0" stop-color="#ff1a1a"/><stop offset="0.5" stop-color="#f01010" stop-opacity="0.95"/><stop offset="1" stop-color="#900000" stop-opacity="0"/></radialGradient>
</defs>
<rect x="59" y="376.5" width="117" height="81" fill="#0a5a20"/>
<rect x="59" y="376.5" width="117" height="81" filter="url(#gA)"/>
<rect x="153.3" y="451.5" width="17.099999999999994" height="2.5" fill="#fff"/>
<rect x="183" y="376.5" width="116.2" height="81" fill="#0e7a2c"/>
<rect x="183" y="376.5" width="116.2" height="81" filter="url(#gB)"/>
<rect x="277.3" y="451.5" width="17.399999999999977" height="2.5" fill="#fff"/>
<rect x="58" y="478.3" width="118" height="81.1" fill="#5a5505"/>
<rect x="58" y="478.3" width="118" height="81.1" filter="url(#yA)"/>
<rect x="153.3" y="553.7" width="17.099999999999994" height="2.5" fill="#fff"/>
<rect x="183.1" y="478.3" width="117.6" height="81.1" fill="#504b05"/>
<rect x="183.1" y="478.3" width="117.6" height="81.1" filter="url(#yB)"/>
<rect x="277.3" y="553.7" width="17.399999999999977" height="2.5" fill="#fff"/>
<rect x="57.5" y="595.5" width="118.3" height="74.7" fill="#0b0000"/>
<circle cx="143.25" cy="608.75" r="2.09" fill="url(#rdot)"/>
<circle cx="99.25" cy="615" r="1.6500000000000001" fill="url(#rdot)"/>
<circle cx="106.75" cy="623.75" r="1.87" fill="url(#rdot)"/>
<circle cx="150" cy="624.75" r="2.09" fill="url(#rdot)"/>
<circle cx="156.5" cy="622.5" r="0.9900000000000001" fill="url(#rdot)"/>
<circle cx="101.25" cy="626.25" r="0.9900000000000001" fill="url(#rdot)"/>
<circle cx="76.75" cy="630.75" r="1.6500000000000001" fill="url(#rdot)"/>
<circle cx="71" cy="633.25" r="2.09" fill="url(#rdot)"/>
<circle cx="114.25" cy="637.25" r="1.9800000000000002" fill="url(#rdot)"/>
<circle cx="145" cy="637.5" r="1.9800000000000002" fill="url(#rdot)"/>
<circle cx="95" cy="648.75" r="1.6500000000000001" fill="url(#rdot)"/>
<circle cx="99" cy="648" r="1.87" fill="url(#rdot)"/>
<circle cx="145.5" cy="646.75" r="1.7600000000000002" fill="url(#rdot)"/>
<circle cx="143" cy="655.75" r="1.9800000000000002" fill="url(#rdot)"/>
<circle cx="174.3" cy="665" r="1.6500000000000001" fill="url(#rdot)"/>
<circle cx="116.25" cy="665" r="0.8800000000000001" fill="url(#rdot)"/>
<circle cx="108.75" cy="599.5" r="0.8800000000000001" fill="url(#rdot)"/>
<circle cx="147" cy="657" r="0.8800000000000001" fill="url(#rdot)"/>
<circle cx="102" cy="614.5" r="0.8800000000000001" fill="url(#rdot)"/>
<rect x="152" y="665.5" width="17.30000000000001" height="2.7000000000000455" fill="#fff"/>
<rect x="183" y="596.2" width="116.8" height="74.3" fill="#020000"/>
<circle cx="184.3" cy="599.3" r="1.54" fill="url(#rdot)"/>
<circle cx="194.75" cy="610" r="2.09" fill="url(#rdot)"/>
<circle cx="291.25" cy="614.25" r="2.09" fill="url(#rdot)"/>
<circle cx="209.25" cy="624.25" r="1.9800000000000002" fill="url(#rdot)"/>
<circle cx="201" cy="626" r="1.87" fill="url(#rdot)"/>
<circle cx="242.25" cy="623.75" r="2.09" fill="url(#rdot)"/>
<circle cx="199.75" cy="630.25" r="1.87" fill="url(#rdot)"/>
<circle cx="278.5" cy="630.25" r="2.09" fill="url(#rdot)"/>
<circle cx="187.5" cy="643.25" r="1.7600000000000002" fill="url(#rdot)"/>
<circle cx="192.25" cy="645.5" r="1.87" fill="url(#rdot)"/>
<circle cx="200.5" cy="655" r="1.87" fill="url(#rdot)"/>
<circle cx="283.75" cy="659.5" r="1.7600000000000002" fill="url(#rdot)"/>
<circle cx="255.75" cy="663.25" r="1.6500000000000001" fill="url(#rdot)"/>
<circle cx="295.5" cy="669.5" r="1.7600000000000002" fill="url(#rdot)"/>
<rect x="276" y="665.5" width="17.5" height="2.7000000000000455" fill="#fff"/>
<rect x="58.8" y="713" width="117" height="79.7" fill="#606060"/>
<rect x="58.8" y="713" width="117" height="79.7" filter="url(#kA0)"/>
<rect x="58.8" y="713" width="117" height="79.7" filter="url(#kA)"/>
<rect x="153.3" y="787.8" width="17.19999999999999" height="2.7000000000000455" fill="#fff"/>
<rect x="183" y="713" width="116.8" height="79.7" fill="#777"/>
<rect x="183" y="713" width="116.8" height="79.7" filter="url(#kB)"/>
<rect x="277.5" y="787.8" width="17.30000000000001" height="2.7000000000000455" fill="#fff"/>
<rect x="353" y="344" width="5.5" height="8.5" fill="#A2002B"/>
<text x="365.75" y="350.8" font-size="8.3" text-anchor="start" textLength="28.2" lengthAdjust="spacingAndGlyphs" fill="#000" stroke="#000" stroke-width="0.18">ACC WT</text>
<rect x="408.2" y="344" width="5.5" height="8.5" fill="#2F4A7D"/>
<text x="421.25" y="350.8" font-size="8.3" text-anchor="start" textLength="29.5" lengthAdjust="spacingAndGlyphs" fill="#000" stroke="#000" stroke-width="0.18">ACC DKI</text>
<line x1="349.2" y1="357.3" x2="349.2" y2="451.6" stroke="#000" stroke-width="1.3"/>
<line x1="345.3" y1="451" x2="438.5" y2="451" stroke="#000" stroke-width="1.3"/>
<line x1="345.3" y1="361" x2="349.2" y2="361" stroke="#000" stroke-width="1.2"/>
<text x="341.7" y="363.9" font-size="8.3" text-anchor="end" textLength="9.3" lengthAdjust="spacingAndGlyphs" fill="#000" stroke="#000" stroke-width="0.18">40</text>
<line x1="345.3" y1="383.5" x2="349.2" y2="383.5" stroke="#000" stroke-width="1.2"/>
<text x="341.7" y="386.4" font-size="8.3" text-anchor="end" textLength="9.3" lengthAdjust="spacingAndGlyphs" fill="#000" stroke="#000" stroke-width="0.18">30</text>
<line x1="345.3" y1="406" x2="349.2" y2="406" stroke="#000" stroke-width="1.2"/>
<text x="341.7" y="408.9" font-size="8.3" text-anchor="end" textLength="9.3" lengthAdjust="spacingAndGlyphs" fill="#000" stroke="#000" stroke-width="0.18">20</text>
<line x1="345.3" y1="428.5" x2="349.2" y2="428.5" stroke="#000" stroke-width="1.2"/>
<text x="341.7" y="431.4" font-size="8.3" text-anchor="end" textLength="9.3" lengthAdjust="spacingAndGlyphs" fill="#000" stroke="#000" stroke-width="0.18">10</text>
<line x1="345.3" y1="451" x2="349.2" y2="451" stroke="#000" stroke-width="1.2"/>
<text x="341.7" y="453.9" font-size="8.3" text-anchor="end" fill="#000" stroke="#000" stroke-width="0.18">0</text>
<text x="324.5" y="404.5" font-size="11" text-anchor="middle" textLength="69.5" lengthAdjust="spacingAndGlyphs" transform="rotate(-90 324.5 404.5)" fill="#000" stroke="#000" stroke-width="0.18">CD62P (%SAC)</text>
<line x1="377.4" y1="388.25" x2="377.4" y2="393" stroke="#000" stroke-width="1.2"/>
<line x1="370.09999999999997" y1="388.25" x2="384.7" y2="388.25" stroke="#000" stroke-width="1.2"/>
<line x1="410.2" y1="391.5" x2="410.2" y2="394.8" stroke="#000" stroke-width="1.2"/>
<line x1="402.9" y1="391.5" x2="417.5" y2="391.5" stroke="#000" stroke-width="1.2"/>
<rect x="362.7" y="393" width="29.400000000000034" height="58" fill="#A2002B"/>
<rect x="395.7" y="394.8" width="29.0" height="56.19999999999999" fill="#2F4A7D"/>
<line x1="345.3" y1="451" x2="438.5" y2="451" stroke="#000" stroke-width="1.3"/>
<line x1="349.2" y1="469.6" x2="349.2" y2="564.6" stroke="#000" stroke-width="1.3"/>
<line x1="345.3" y1="564" x2="437.5" y2="564" stroke="#000" stroke-width="1.3"/>
<line x1="345.3" y1="473.7" x2="349.2" y2="473.7" stroke="#000" stroke-width="1.2"/>
<text x="341.7" y="476.59999999999997" font-size="8.3" text-anchor="end" textLength="9.3" lengthAdjust="spacingAndGlyphs" fill="#000" stroke="#000" stroke-width="0.18">40</text>
<line x1="345.3" y1="496.3" x2="349.2" y2="496.3" stroke="#000" stroke-width="1.2"/>
<text x="341.7" y="499.2" font-size="8.3" text-anchor="end" textLength="9.3" lengthAdjust="spacingAndGlyphs" fill="#000" stroke="#000" stroke-width="0.18">30</text>
<line x1="345.3" y1="518.85" x2="349.2" y2="518.85" stroke="#000" stroke-width="1.2"/>
<text x="341.7" y="521.75" font-size="8.3" text-anchor="end" textLength="9.3" lengthAdjust="spacingAndGlyphs" fill="#000" stroke="#000" stroke-width="0.18">20</text>
<line x1="345.3" y1="541.4" x2="349.2" y2="541.4" stroke="#000" stroke-width="1.2"/>
<text x="341.7" y="544.3" font-size="8.3" text-anchor="end" textLength="9.3" lengthAdjust="spacingAndGlyphs" fill="#000" stroke="#000" stroke-width="0.18">10</text>
<line x1="345.3" y1="564" x2="349.2" y2="564" stroke="#000" stroke-width="1.2"/>
<text x="341.7" y="566.9" font-size="8.3" text-anchor="end" fill="#000" stroke="#000" stroke-width="0.18">0</text>
<text x="324.5" y="517.2" font-size="11" text-anchor="middle" textLength="67.4" lengthAdjust="spacingAndGlyphs" transform="rotate(-90 324.5 517.2)" fill="#000" stroke="#000" stroke-width="0.18">JON/A (%SAC)</text>
<line x1="377.0" y1="513.25" x2="377.0" y2="518.6" stroke="#000" stroke-width="1.2"/>
<line x1="369.7" y1="513.25" x2="384.3" y2="513.25" stroke="#000" stroke-width="1.2"/>
<line x1="409.85" y1="514.75" x2="409.85" y2="519.3" stroke="#000" stroke-width="1.2"/>
<line x1="402.55" y1="514.75" x2="417.15000000000003" y2="514.75" stroke="#000" stroke-width="1.2"/>
<rect x="362.5" y="518.6" width="29.0" height="45.39999999999998" fill="#A2002B"/>
<rect x="395.3" y="519.3" width="29.099999999999966" height="44.700000000000045" fill="#2F4A7D"/>
<line x1="345.3" y1="564" x2="437.5" y2="564" stroke="#000" stroke-width="1.3"/>
<line x1="349.2" y1="581" x2="349.2" y2="675.7" stroke="#000" stroke-width="1.3"/>
<line x1="345.3" y1="675.1" x2="437.5" y2="675.1" stroke="#000" stroke-width="1.3"/>
<line x1="345.3" y1="584.9" x2="349.2" y2="584.9" stroke="#000" stroke-width="1.2"/>
<text x="341.7" y="587.8" font-size="8.3" text-anchor="end" textLength="11.4" lengthAdjust="spacingAndGlyphs" fill="#000" stroke="#000" stroke-width="0.18">2.0</text>
<line x1="345.3" y1="607.5" x2="349.2" y2="607.5" stroke="#000" stroke-width="1.2"/>
<text x="341.7" y="610.4" font-size="8.3" text-anchor="end" textLength="11.4" lengthAdjust="spacingAndGlyphs" fill="#000" stroke="#000" stroke-width="0.18">1.5</text>
<line x1="345.3" y1="630" x2="349.2" y2="630" stroke="#000" stroke-width="1.2"/>
<text x="341.7" y="632.9" font-size="8.3" text-anchor="end" textLength="11.4" lengthAdjust="spacingAndGlyphs" fill="#000" stroke="#000" stroke-width="0.18">1.0</text>
<line x1="345.3" y1="652.6" x2="349.2" y2="652.6" stroke="#000" stroke-width="1.2"/>
<text x="341.7" y="655.5" font-size="8.3" text-anchor="end" textLength="11.4" lengthAdjust="spacingAndGlyphs" fill="#000" stroke="#000" stroke-width="0.18">0.5</text>
<line x1="345.3" y1="675.1" x2="349.2" y2="675.1" stroke="#000" stroke-width="1.2"/>
<text x="341.7" y="678.0" font-size="8.3" text-anchor="end" textLength="11.4" lengthAdjust="spacingAndGlyphs" fill="#000" stroke="#000" stroke-width="0.18">0.0</text>
<text x="322.1" y="628.7" font-size="11" text-anchor="middle" textLength="84.6" lengthAdjust="spacingAndGlyphs" transform="rotate(-90 322.1 628.7)" fill="#000" stroke="#000" stroke-width="0.18">Annexin V (%SAC)</text>
<line x1="377.0" y1="596" x2="377.0" y2="614" stroke="#000" stroke-width="1.2"/>
<line x1="369.7" y1="596" x2="384.3" y2="596" stroke="#000" stroke-width="1.2"/>
<line x1="409.85" y1="594.5" x2="409.85" y2="607.3" stroke="#000" stroke-width="1.2"/>
<line x1="402.55" y1="594.5" x2="417.15000000000003" y2="594.5" stroke="#000" stroke-width="1.2"/>
<rect x="362.5" y="614" width="29.0" height="61.10000000000002" fill="#A2002B"/>
<rect x="395.3" y="607.3" width="29.099999999999966" height="67.80000000000007" fill="#2F4A7D"/>
<line x1="345.3" y1="675.1" x2="437.5" y2="675.1" stroke="#000" stroke-width="1.3"/>
<line x1="349.2" y1="705.5" x2="349.2" y2="800.0" stroke="#000" stroke-width="1.3"/>
<line x1="345.3" y1="799.4" x2="438.7" y2="799.4" stroke="#000" stroke-width="1.3"/>
<line x1="345.3" y1="709.5" x2="349.2" y2="709.5" stroke="#000" stroke-width="1.2"/>
<text x="341.7" y="712.4" font-size="8.3" text-anchor="end" textLength="9.3" lengthAdjust="spacingAndGlyphs" fill="#000" stroke="#000" stroke-width="0.18">40</text>
<line x1="345.3" y1="732" x2="349.2" y2="732" stroke="#000" stroke-width="1.2"/>
<text x="341.7" y="734.9" font-size="8.3" text-anchor="end" textLength="9.3" lengthAdjust="spacingAndGlyphs" fill="#000" stroke="#000" stroke-width="0.18">30</text>
<line x1="345.3" y1="754.5" x2="349.2" y2="754.5" stroke="#000" stroke-width="1.2"/>
<text x="341.7" y="757.4" font-size="8.3" text-anchor="end" textLength="9.3" lengthAdjust="spacingAndGlyphs" fill="#000" stroke="#000" stroke-width="0.18">20</text>
<line x1="345.3" y1="777" x2="349.2" y2="777" stroke="#000" stroke-width="1.2"/>
<text x="341.7" y="779.9" font-size="8.3" text-anchor="end" textLength="9.3" lengthAdjust="spacingAndGlyphs" fill="#000" stroke="#000" stroke-width="0.18">10</text>
<line x1="345.3" y1="799.4" x2="349.2" y2="799.4" stroke="#000" stroke-width="1.2"/>
<text x="341.7" y="802.3" font-size="8.3" text-anchor="end" fill="#000" stroke="#000" stroke-width="0.18">0</text>
<text x="322.3" y="752.7" font-size="11" text-anchor="middle" textLength="134.4" lengthAdjust="spacingAndGlyphs" transform="rotate(-90 322.3 752.7)" fill="#000" stroke="#000" stroke-width="0.18">Thrombus multilayer (%SAC)</text>
<line x1="377.5" y1="728.25" x2="377.5" y2="732.5" stroke="#000" stroke-width="1.2"/>
<line x1="370.2" y1="728.25" x2="384.8" y2="728.25" stroke="#000" stroke-width="1.2"/>
<line x1="410.5" y1="712.75" x2="410.5" y2="716.8" stroke="#000" stroke-width="1.2"/>
<line x1="403.2" y1="712.75" x2="417.8" y2="712.75" stroke="#000" stroke-width="1.2"/>
<rect x="363" y="732.5" width="29" height="66.89999999999998" fill="#A2002B"/>
<rect x="396" y="716.8" width="29" height="82.60000000000002" fill="#2F4A7D"/>
<line x1="345.3" y1="799.4" x2="438.7" y2="799.4" stroke="#000" stroke-width="1.3"/>
<line x1="369.25" y1="707.25" x2="409.25" y2="707.25" stroke="#000" stroke-width="1.2"/>
<text x="388.4" y="702.8" font-size="7.2" text-anchor="middle" fill="#222" stroke="#000" stroke-width="0.22" font-style="italic">#</text>
<rect x="0" y="0" width="520" height="1.3" fill="#000"/>
<rect x="0" y="0" width="1.3" height="817.6" fill="#000"/>
<rect x="518.8" y="0" width="1.2" height="817.6" fill="#000"/>
<rect x="0" y="815.9" width="520" height="1.85" fill="#1c1c1c"/>
</svg>
</body></html>
